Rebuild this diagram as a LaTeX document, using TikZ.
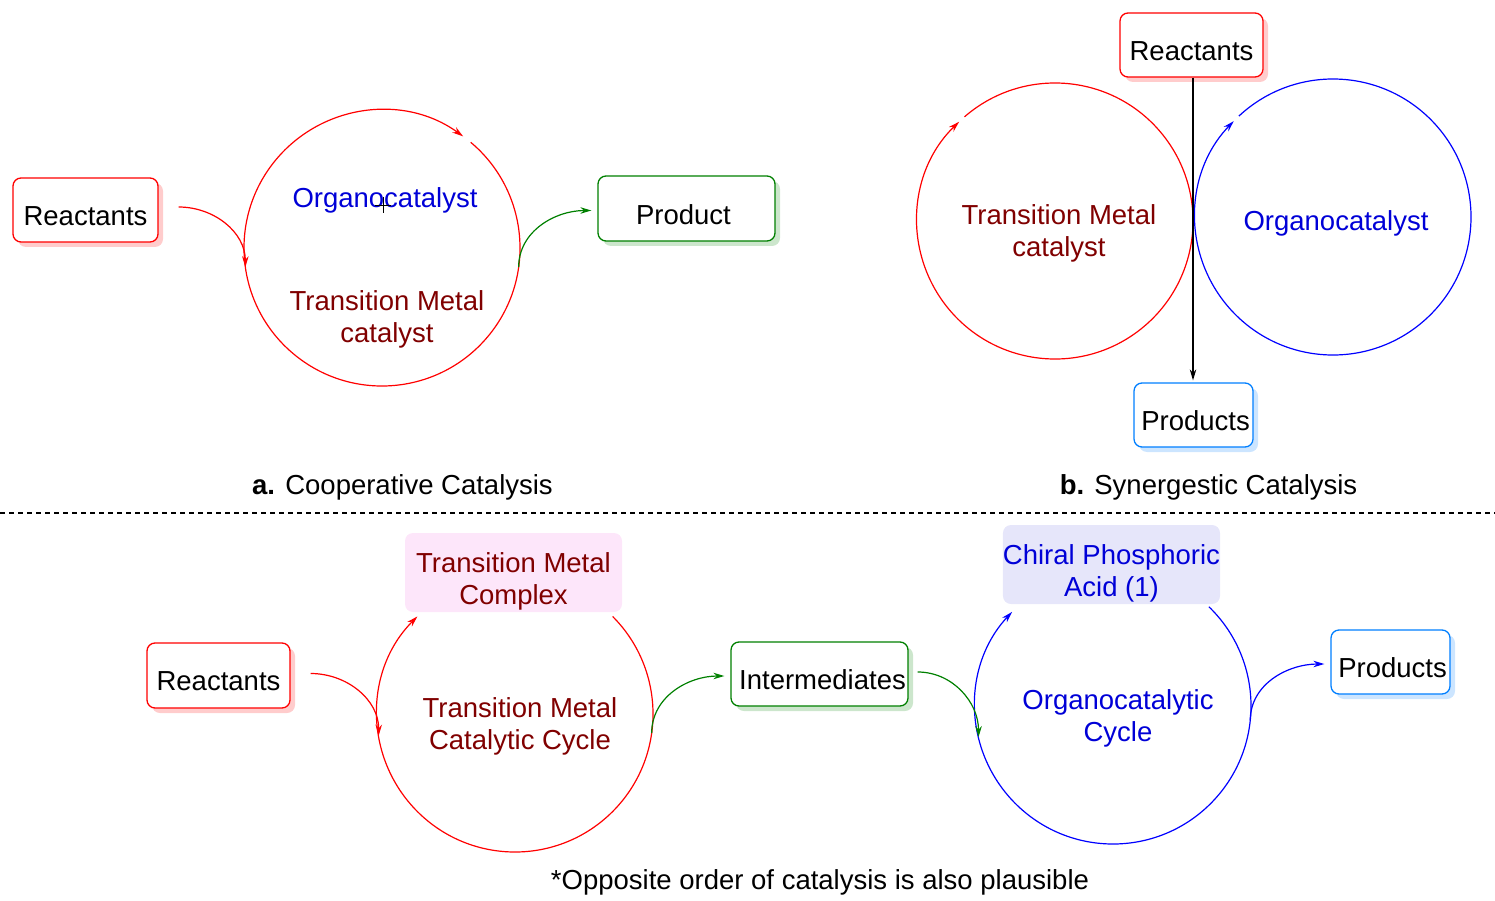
\documentclass[tikz,border=0pt]{standalone}
\usepackage{fontspec}
\setmainfont{Liberation Sans}
\usetikzlibrary{arrows.meta,shadows}
\definecolor{dred}{RGB}{128,0,0}
\definecolor{dblue}{RGB}{0,0,215}
\definecolor{cblue}{RGB}{0,0,255}
\definecolor{gline}{RGB}{0,128,0}
\definecolor{bline}{RGB}{0,127,255}
\definecolor{rsh}{RGB}{255,204,204}
\definecolor{gsh}{RGB}{204,230,204}
\definecolor{bsh}{RGB}{204,229,255}
\definecolor{pinkf}{RGB}{253,230,250}
\definecolor{lavf}{RGB}{230,230,250}
\newcommand{\dn}[1]{\raisebox{-6pt}[\height][\depth]{#1}}
\newcommand{\two}[2]{\raisebox{-10pt}[\height][\depth]{\begin{tabular}{@{}c@{}}#1\\#2\end{tabular}}}
\tikzset{
  txt/.style={font=\fontsize{27.5}{32}\selectfont, align=center, inner sep=0pt},
  box/.style={txt, rectangle, rounded corners=8pt, line width=1.3pt, fill=white},
  rbox/.style={box, draw=red, drop shadow={shadow xshift=5pt, shadow yshift=-5pt, fill=rsh, opacity=1}},
  gbox/.style={box, draw=gline, drop shadow={shadow xshift=5pt, shadow yshift=-5pt, fill=gsh, opacity=1}},
  bbox/.style={box, draw=bline, drop shadow={shadow xshift=5pt, shadow yshift=-5pt, fill=bsh, opacity=1}},
  ring/.style={circle, minimum size=276pt, inner sep=0pt, outer sep=0pt},
  arr/.style={line width=1.2pt, -{Stealth[length=11pt,width=6.5pt]}},
}
\begin{document}
\begin{tikzpicture}[x=1pt,y=1pt]
\useasboundingbox (0,0) rectangle (1495,-901);
% ---------- a. Cooperative ----------
\node[rbox, minimum width=145pt, minimum height=64pt] (rA) at (85.5,-210) {\dn{Reactants}};
\node[gbox, minimum width=177pt, minimum height=65pt] (pA) at (686.5,-208.5) {\hspace*{-6pt}\dn{Product}};
\node[ring] (c1) at (382,-248) {};
\draw[red, arr] (c1.50) arc[start angle=50, end angle=-306, radius=138pt];
\node[txt, text=dblue] (o1) at (385,-200) {Organocatalyst};
\node[txt, text=dred] (t1) at (387,-319) {Transition Metal\\catalyst};
\draw[black, line width=0.8pt] (375,-205) -- (391,-205) (383,-197) -- (383,-213);
\draw[red, arr] ([xshift=20pt,yshift=3pt]rA.east) to[out=0,in=90] (c1.188);
\draw[gline, arr] (c1.-8) to[out=90,in=180] ([xshift=-6pt,yshift=-2pt]pA.west);
\node[txt] (capA) at (402.5,-487) {\textbf{a.} Cooperative Catalysis};
% ---------- b. Synergistic ----------
\node[ring] (c2) at (1055,-221) {};
\node[ring] (c3) at (1333,-217) {};
\draw[red, arr] (c2.131) arc[start angle=131, end angle=-226, radius=138pt];
\draw[cblue, arr] (c3.133) arc[start angle=133, end angle=-224, radius=138pt];
\node[rbox, minimum width=143pt, minimum height=64pt] (rB) at (1191.5,-45) {\dn{Reactants}};
\node[bbox, minimum width=119pt, minimum height=64pt] (pB) at (1193.5,-415) {\hspace*{4pt}\dn{Products}};
\draw[black, arr] ([xshift=1.5pt]rB.south) -- ([xshift=-0.5pt,yshift=2pt]pB.north);
\node[txt, text=dred] (t2) at (1059,-233) {Transition Metal\\catalyst};
\node[txt, text=dblue] (o2) at (1336,-223) {Organocatalyst};
\node[txt] (capB) at (1208.5,-487) {\textbf{b.} Synergestic Catalysis};
% ---------- divider ----------
\coordinate (dl) at (0,-513);
\coordinate (dr) at (1495,-513);
\draw[line width=1.2pt, dash pattern=on 5pt off 4pt] (dl) -- (dr);
% ---------- bottom ----------
\node[ring] (c4) at (515,-714) {};
\node[ring] (c5) at (1113,-706) {};
\draw[red, arr] (c4.45) arc[start angle=45, end angle=-225, radius=138pt];
\draw[cblue, arr] (c5.46) arc[start angle=46, end angle=-223, radius=138pt];
\node[box, fill=pinkf, draw=none, minimum width=217pt, minimum height=79pt, text=dred] (tmc) at (513.5,-572.5) {\two{Transition Metal}{Complex}};
\node[box, fill=lavf, draw=none, minimum width=217pt, minimum height=79pt, text=dblue] (cpa) at (1111.5,-564.5) {\two{Chiral Phosphoric}{Acid (1)}};
\node[rbox, minimum width=143pt, minimum height=65pt] (rC) at (218.5,-675.5) {\dn{Reactants}};
\node[gbox, minimum width=177pt, minimum height=64pt] (iC) at (819.5,-674) {\hspace*{6pt}\dn{Intermediates}};
\node[bbox, minimum width=119pt, minimum height=64pt] (pC) at (1390.5,-662) {\hspace*{4pt}\dn{Products}};
\node[txt, text=dred] (t4) at (520,-726) {Transition Metal\\Catalytic Cycle};
\node[txt, text=dblue] (o5) at (1118,-718) {Organocatalytic\\Cycle};
\draw[red, arr] ([xshift=20pt,yshift=2pt]rC.east) to[out=0,in=90] (c4.189);
\draw[gline, arr] (c4.-8) to[out=90,in=180] ([xshift=-6pt,yshift=-2pt]iC.west);
\draw[gline, arr] ([xshift=9pt,yshift=2pt]iC.east) to[out=0,in=90] (c5.193);
\draw[cblue, arr] (c5.-6) to[out=90,in=180] ([xshift=-6pt,yshift=-2pt]pC.west);
\node[txt] (foot) at (820,-882) {*Opposite order of catalysis is also plausible};
\end{tikzpicture}
\end{document}
